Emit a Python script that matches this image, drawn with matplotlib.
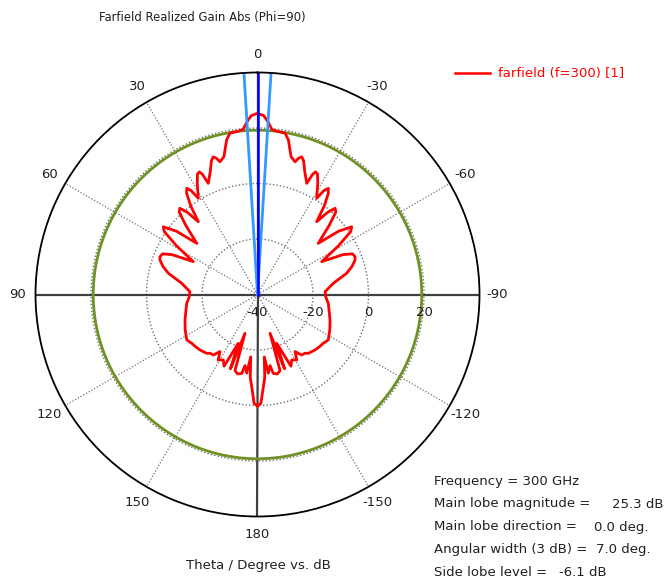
import numpy as np
import matplotlib
matplotlib.use("Agg")
import matplotlib.pyplot as plt

plt.rcParams['font.family'] = ['DejaVu Sans']

# realized gain (dB) vs theta (deg), phi = 90 cut
theta_left = [0, 2, 3.5, 5, 7, 9.7, 11.3, 13.7, 15.8, 16.8, 17.8, 19, 21, 23.9,
              24.6, 25.3, 26.5, 28.5, 31.6, 32.6, 33.7, 35, 37, 39.1, 40.5, 42,
              43.5, 46, 49.9, 52, 54.3, 56, 59, 62.9, 65, 66.8, 68.8, 70.5, 73.5,
              76.6, 81.6, 87.6, 92, 97.1, 103, 109.4, 116, 122.7, 126.6, 130, 134,
              139.2, 141.1, 143.9, 146.7, 149, 152.4, 155, 158.5, 160, 162.1,
              163.5, 166, 168.7, 170, 172.2, 173.8, 175, 176.4, 178.2, 180]
gain_left = [25.3, 24.5, 22.3, 19.7, 19.2, 19.0, 16.8, 11.1, 9.7, 11.3, 12.1, 11.0, 7.5, 3.8,
             7.5, 8.9, 8.5, 5.5, 0.7, 4.5, 6.0, 4.5, 0.0, -6.2, -1.0, 1.8,
             1.0, -4.0, -11.4, -3.0, 1.8, 0.5, -6.0, -14.0, -6.0, -2.8, -2.3, -2.7, -4.5,
             -7.0, -12.4, -15.6, -15.4, -14.3, -13.5, -12.3, -11.0, -9.7, -10.5, -10.8, -11.2,
             -12.0, -12.8, -13.0, -15.4, -12.5, -13.4, -11.5, -21.1, -11.5, -25.3,
             -11.4, -10.5, -11.0, -14.0, -11.4, -17.4, -10.0, -6.7, -0.8, 0.2]
theta_right = [-t for t in theta_left]
gain_right = list(gain_left)

main_lobe_mag = 25.3
main_lobe_dir = 0.0
width_3db = 7.0
side_lobe = -6.1

angle_ticks = [0, 30, 60, 90, 120, 150, 180, -150, -120, -90, -60, -30]
rings = [-20, 0, 20]
r_min, r_max = -40, 40

fig = plt.figure(figsize=(6.66, 5.83), dpi=100)
ax = fig.add_axes([35.5 / 666, 66.5 / 583, 444 / 666, 444 / 583], projection='polar')
ax.set_theta_zero_location('N')
ax.set_theta_direction(1)
ax.set_ylim(r_min, r_max)
ax.set_xticks([])
ax.set_yticks([])
ax.grid(False)
ax.spines['polar'].set_color('black')
ax.spines['polar'].set_linewidth(1.3)

full = np.linspace(0, 2 * np.pi, 721)
grey = '#707070'
for r in rings:
    ax.plot(full, np.full_like(full, r), ls=(0, (1, 1.5)), color=grey, lw=1.0)

for a in angle_ticks:
    if a % 90 != 0:
        ax.plot([np.deg2rad(a)] * 2, [r_min, r_max], ls=(0, (1, 1.5)), color=grey, lw=0.9)

# solid cross through the origin
for a in (0, 90, 180, -90):
    ax.plot([np.deg2rad(a)] * 2, [r_min, r_max], color='#404040', lw=1.6)

# side lobe level circle
ax.plot(full, np.full_like(full, main_lobe_mag + side_lobe), color='#6f9125', lw=2.0)

# pattern
th = np.deg2rad(theta_right[::-1] + theta_left[1:])
g = np.array(gain_right[::-1] + gain_left[1:])
ax.plot(th, g, color='#ff0000', lw=2.0)

# main lobe direction and 3 dB beam width
for a in (main_lobe_dir - width_3db / 2, main_lobe_dir + width_3db / 2):
    ax.plot([np.deg2rad(a)] * 2, [r_min, r_max], color='#3399ff', lw=2.0)
ax.plot([np.deg2rad(main_lobe_dir)] * 2, [r_min, r_max], color='#0000ff', lw=1.8)

# angle labels outside the circle
for a in angle_ticks:
    ax.text(np.deg2rad(a), r_max + 6.5, str(a), ha='center', va='center',
            fontsize=9.5, color='#202020', clip_on=False)

# radial labels below the horizontal axis
for r in [r_min] + rings:
    ax.annotate(str(r), xy=(np.deg2rad(-90), r), xytext=(0, -18),
                textcoords='offset pixels', ha='center', va='center',
                fontsize=9.5, color='#202020', annotation_clip=False)

fig.text(202 / 666, 1 - 18 / 583, 'Farfield Realized Gain Abs (Phi=90)',
         ha='center', va='center', fontsize=8.4, color='#202020')
fig.text(258 / 666, 1 - 566 / 583, 'Theta / Degree vs. dB',
         ha='center', va='center', fontsize=9.5, color='#202020')

# legend
fig.lines.append(plt.Line2D([455 / 666, 490 / 666], [1 - 73 / 583] * 2,
                            color='#ff0000', lw=1.8, transform=fig.transFigure))
fig.text(498 / 666, 1 - 73 / 583, 'farfield (f=300) [1]', ha='left', va='center',
         fontsize=9.5, color='#ff0000')

# summary block
info = [
    ('Frequency = 300 GHz', None, None),
    ('Main lobe magnitude =', f'{main_lobe_mag:.1f} dB', 612),
    ('Main lobe direction =', f'{main_lobe_dir:.1f} deg.', 594),
    ('Angular width (3 dB) =', f'{width_3db:.1f} deg.', 596),
    ('Side lobe level =', f'{side_lobe:.1f} dB', 559),
]
ys = [482, 504, 527, 550, 573]
for (lab, val, xv), y in zip(info, ys):
    fig.text(434 / 666, 1 - y / 583, lab, ha='left', va='center', fontsize=9.5, color='#202020')
    if val:
        fig.text(xv / 666, 1 - y / 583, val, ha='left', va='center', fontsize=9.5, color='#202020')

fig.savefig('out.png', dpi=100)
